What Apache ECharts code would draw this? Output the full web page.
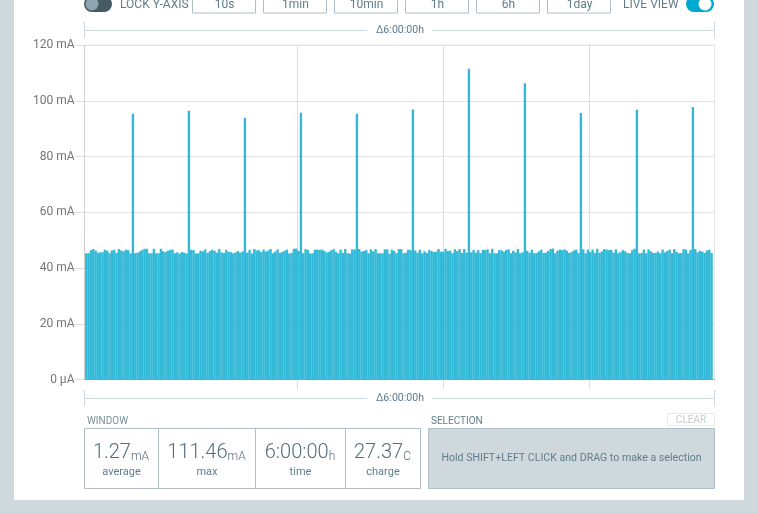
<!DOCTYPE html>
<html>
<head>
<meta charset="utf-8">
<style>html,body{margin:0;padding:0;background:#cfd8dc}#c{width:758px;height:514px}</style>
<script src="https://cdn.jsdelivr.net/npm/echarts@6/dist/echarts.min.js"></script>
</head>
<body>
<div id="c"></div>
<script>
const sampleSeconds = 80;
const currentMilliamps = [
45.3,45.3,46.4,46.8,46.3,45.5,45.6,45.7,46.6,46.2,45.3,46.3,46.5,45.4,46.8,46.3,46.0,46.6,46.4,45.3,95.3,45.3,45.5,
46.0,46.5,46.9,46.9,45.3,45.3,46.9,45.3,45.3,46.9,46.0,45.7,46.2,46.5,46.6,45.3,45.6,45.2,45.7,45.5,45.2,96.4,46.5,46.4,
45.2,45.3,46.2,46.0,46.7,45.4,46.1,46.6,46.2,45.5,46.8,45.6,45.4,46.5,45.8,45.7,45.3,45.6,46.1,45.5,45.9,93.9,45.5,46.5,
45.2,46.8,46.3,46.4,45.7,46.6,45.9,46.3,46.8,45.3,45.9,46.7,45.4,45.8,46.2,46.6,45.2,45.4,46.9,47.0,46.1,95.7,45.3,46.8,
46.5,45.2,45.3,46.6,46.6,46.5,46.6,46.2,45.6,45.8,46.4,46.8,45.8,45.3,46.6,45.4,46.8,45.3,45.2,46.7,46.6,95.3,46.8,45.9,
46.1,46.5,45.3,46.7,46.0,46.8,45.3,45.3,45.3,46.7,46.7,45.1,46.6,46.1,45.3,46.8,46.8,45.3,45.5,46.6,46.4,96.9,46.3,45.5,
46.6,45.3,46.0,45.4,46.5,46.1,45.7,45.9,46.8,45.9,45.8,46.9,46.1,46.2,45.3,46.7,46.1,46.8,45.4,46.8,45.5,111.46,45.6,46.5,
45.5,46.4,45.4,46.5,46.5,46.7,45.3,46.9,45.3,45.3,46.4,46.4,45.8,46.5,46.7,45.3,46.2,45.6,46.8,45.3,45.6,106.3,46.2,45.5,
46.6,45.3,45.4,46.0,46.6,45.4,45.5,46.1,46.8,47.0,45.3,46.2,46.6,46.4,46.7,46.2,45.4,45.7,46.3,46.6,45.4,95.6,46.7,45.3,
46.6,45.7,46.6,45.4,46.9,45.5,46.0,46.8,46.6,46.4,46.5,45.5,46.7,45.3,45.7,46.4,46.0,45.4,45.3,46.4,46.9,96.8,45.3,45.4,
46.6,45.3,46.7,46.0,45.4,45.4,45.9,45.3,46.6,45.6,46.1,46.6,45.3,46.8,45.8,45.3,45.4,46.8,46.6,45.3,46.5,97.8,46.8,45.6,
46.2,45.9,45.4,46.3,46.6,45.4
];
const yTicks = [0, 20, 40, 60, 80, 100, 120];
const yTickLabels = ['0 µA', '20 mA', '40 mA', '60 mA', '80 mA', '100 mA', '120 mA'];
const xGridSeconds = [7320, 12320, 17320];
const spanLabel = 'Δ6:00:00h';
const rangeButtons = ['10s', '1min', '10min', '1h', '6h', '1day'];
const windowStats = [['1.27', 'mA', 'average'], ['111.46', 'mA', 'max'], ['6:00:00', 'h', 'time'], ['27.37', 'C', 'charge']];

const FONT = 'Roboto';
const INK = '#607d8b', EDGE = '#b0bec5', SOFT = '#cfd8dc';
const T = (x, y, text, size, fill, align) => ({
  type: 'text', silent: true,
  style: { x, y, text, fontFamily: FONT, fontSize: size, fill, align: align || 'left', verticalAlign: 'middle' }
});
const L = (x1, y1, x2, y2, stroke) => ({
  type: 'line', silent: true, shape: { x1, y1, x2, y2 }, style: { stroke, lineWidth: 1 }
});
const R = (x, y, width, height, stroke, fill, r) => ({
  type: 'rect', silent: true, shape: { x, y, width, height, r: r || 0 }, style: { stroke, fill: fill || 'none', lineWidth: 1 }
});
const bracket = (y, top, bottom) => [
  L(84.5, top, 84.5, bottom, SOFT), L(714.5, top, 714.5, bottom, SOFT),
  L(84.5, y, 367, y, SOFT), L(432, y, 714.5, y, SOFT),
  T(400, y, spanLabel, 10.6, INK, 'center')
];

const buttonLefts = [192.5, 263.5, 334.5, 405.5, 476.5, 547.5];
const statBoxes = [[84.5, 158.5], [158.5, 255.5], [255.5, 345.5], [345.5, 420.5]];
const graphics = [
  { type: 'rect', silent: true, z: -10, shape: { x: 14, y: 0, width: 730, height: 500 }, style: { fill: '#fff' } },
  { type: 'rect', silent: true, shape: { x: 84, y: -4, width: 28, height: 16, r: 8 }, style: { fill: '#455a64' } },
  { type: 'circle', silent: true, shape: { cx: 92, cy: 4, r: 6.5 }, style: { fill: '#90a4ae' } },
  T(120, 5, 'LOCK Y-AXIS', 12, INK),
  T(623, 5, 'LIVE VIEW', 12, INK),
  { type: 'rect', silent: true, shape: { x: 686, y: -4, width: 28, height: 16, r: 8 }, style: { fill: '#00a9ce' } },
  { type: 'circle', silent: true, shape: { cx: 705, cy: 4, r: 6.5 }, style: { fill: '#fff' } },
  ...bracket(30.5, 22, 38),
  ...bracket(398.5, 390, 406),
  T(87, 421, 'WINDOW', 10, '#78909c'),
  T(431, 421, 'SELECTION', 10, INK),
  R(667.5, 413.5, 47, 12, '#e6e9eb'),
  T(691, 420, 'CLEAR', 10, '#c4ccd0', 'center'),
  R(84.5, 428.5, 336, 60, EDGE),
  R(428.5, 428.5, 286, 60, EDGE, SOFT),
  T(571.5, 458.5, 'Hold SHIFT+LEFT CLICK and DRAG to make a selection', 10.6, INK, 'center')
];
rangeButtons.forEach((label, i) => {
  graphics.push(R(buttonLefts[i], -6, 63, 19, EDGE));
  graphics.push(T(buttonLefts[i] + 32, 5, label, 12, INK, 'center'));
});
windowStats.forEach((s, i) => {
  const [a, b] = statBoxes[i];
  const cx = (a + b) / 2 - 0.5;
  if (i > 0) graphics.push(L(a, 428.5, a, 488.5, EDGE));
  graphics.push({
    type: 'text', silent: true,
    style: {
      x: cx, y: 453, align: 'center', verticalAlign: 'middle', fill: INK,
      text: '{v|' + s[0] + '}{u|' + s[1] + '}',
      rich: {
        v: { fontFamily: FONT, fontSize: 20, fill: '#546e7a', fontWeight: 300 },
        u: { fontFamily: FONT, fontSize: 12, fill: '#546e7a', fontWeight: 300, verticalAlign: 'bottom' }
      }
    }
  });
  graphics.push(T(cx + 0.5, 472.5, s[2], 11, INK, 'center'));
});

const chart = echarts.init(document.getElementById('c'), null, { renderer: 'canvas' });
chart.setOption({
  animation: false,
  backgroundColor: SOFT,
  textStyle: { fontFamily: FONT },
  grid: { left: 84.5, right: 43.5, top: 45, bottom: 134.5, containLabel: false, show: true, borderColor: '#e6e6e6', borderWidth: 1, backgroundColor: 'transparent' },
  xAxis: {
    type: 'value', min: 20, max: 21620,
    axisLine: { show: true, lineStyle: { color: '#9fb0b8', width: 1 } },
    axisTick: { show: true, length: 10, inside: false, customValues: xGridSeconds, lineStyle: { color: '#dedede' } },
    axisLabel: { show: false },
    splitLine: { show: true, lineStyle: { color: '#dedede', width: 1 } }
  },
  yAxis: {
    type: 'value', min: 0, max: 120, interval: 20,
    axisLine: { show: true, lineStyle: { color: '#cfcfcf', width: 1 } },
    axisTick: { show: true, length: 10, lineStyle: { color: '#dedede' } },
    axisLabel: {
      color: '#757575', fontSize: 12, fontFamily: FONT, margin: 10,
      formatter: v => yTickLabels[yTicks.indexOf(v)]
    },
    splitLine: { show: true, lineStyle: { color: '#e3e3e3', width: 1 } }
  },
  series: [{
    type: 'bar', barWidth: 2.4, clip: true,
    itemStyle: { color: '#00a9ce', opacity: 0.8 },
    data: currentMilliamps.map((v, i) => [(i + 1) * sampleSeconds, v])
  }],
  graphic: { elements: graphics }
});
</script>
</body>
</html>
